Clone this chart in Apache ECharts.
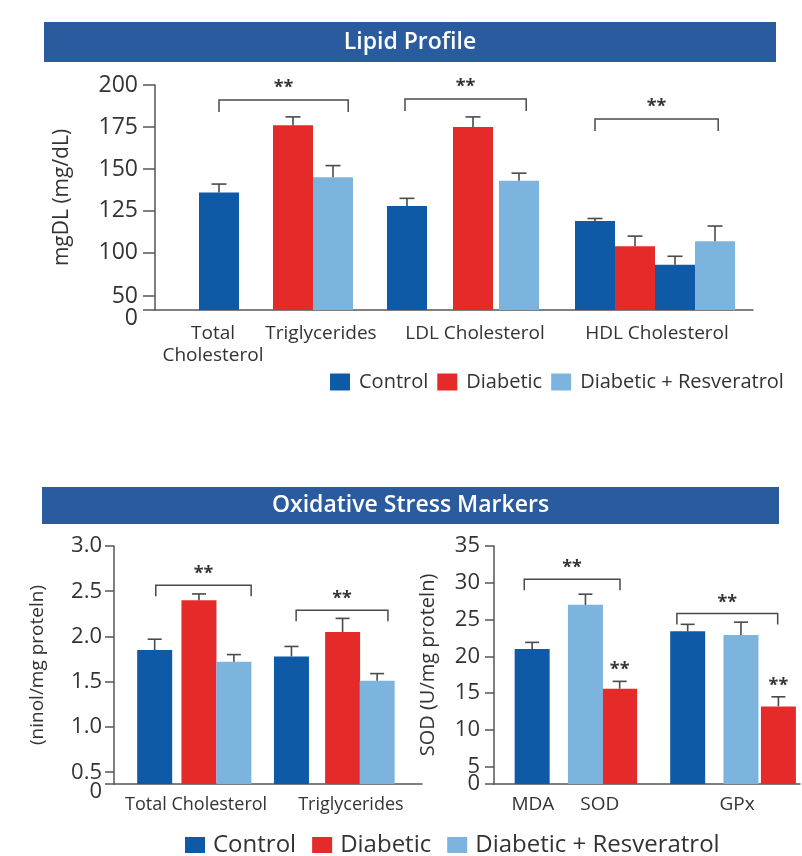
<!DOCTYPE html>
<html><head><meta charset="utf-8">
<script src="https://cdn.jsdelivr.net/npm/echarts@6/dist/echarts.min.js"></script>
<style>html,body{margin:0;padding:0;background:#fff}#c{width:802px;height:856px}</style>
</head><body><div id="c"></div>
<script>
// ================= DATA =================
const seriesNames = ['Control', 'Diabetic', 'Diabetic + Resveratrol'];

// --- Lipid Profile (mg/dL) ---
const lipidTitle = 'Lipid Profile';
const lipidYName = 'mgDL (mg/dL)';
const lipidCategories = ['Total\nCholesterol', 'Triglycerides', 'LDL Cholesterol', 'HDL Cholesterol'];
const lipidBarSeries = [0, 1, 2, 0, 1, 2, 0, 1, 0, 2];           // index into seriesNames
const lipidValues    = [136, 176, 145, 128, 175, 143, 119, 104, 93, 107];
const lipidErrors    = [5, 5, 7, 4.5, 6, 4.5, 1.5, 6, 5, 9];
const lipidTickLabels = ['0', '50', '100', '125', '150', '175', '200'];

// --- Oxidative Stress Markers (left panel) ---
const oxTitle = 'Oxidative Stress Markers';
const oxLeftYName = '(ninol/mg proteln)';
const oxLeftCategories = ['Total Cholesterol', 'Triglycerides'];
const oxLeftBarSeries = [0, 1, 2, 0, 1, 2];
const oxLeftValues    = [1.85, 2.40, 1.72, 1.78, 2.05, 1.51];
const oxLeftErrors    = [0.12, 0.07, 0.08, 0.11, 0.15, 0.08];
const oxLeftTickLabels = ['0', '0.5', '1.0', '1.5', '2.0', '2.5', '3.0'];

// --- Oxidative Stress Markers (right panel) ---
const oxRightYName = 'SOD (U/mg proteln)';
const oxRightCategories = ['MDA', 'SOD', 'GPx'];
const oxRightBarSeries = [0, 2, 1, 0, 2, 1];
const oxRightValues    = [21, 27, 15.6, 23.4, 22.9, 13.2];
const oxRightErrors    = [0.9, 1.45, 1.0, 0.95, 1.75, 1.3];
const oxRightTickLabels = ['0', '5', '10', '15', '20', '25', '30', '35'];
const oxRightStarBars = [2, 5];   // bars individually marked **

// ================= LAYOUT / STYLE =================
const FONT = '"Open Sans", "Noto Sans", sans-serif';
const COLORS = ['#0f5aa7', '#e52b2a', '#7db4de'];
const BANNER = '#2a5b9f';
const AXIS_COLOR = '#555';
const TEXT_COLOR = '#333';

const panels = [
  { // lipid
    grid: { left: 155, top: 85, width: 598, height: 225 },
    xMax: 14.95, barWidth: 40,
    barPos: [1.6, 3.45, 4.45, 6.3, 7.95, 9.1, 11.0, 12.0, 13.0, 14.0],
    labelPos: [1.45, 4.15, 8.0, 12.55], labelFont: 19, labelMargin: 13,
    yMin: 66, yMax: 200, tickPos: [66, 74.3, 100, 125, 150, 175, 200],
    zeroPad: 17, tickLen: 12, yLabelFont: 23, yLabelMargin: 17,
    yNameFont: 21, yNameGap: 82,
    brackets: [[1.6, 4.83, 191], [6.25, 9.28, 191.7], [11.0, 14.08, 179.7]],
    bracketLeg: 12, starGap: 12, capWidth: 15,
    categories: lipidCategories, barSeries: lipidBarSeries, values: lipidValues, errors: lipidErrors,
    tickLabels: lipidTickLabels, yName: lipidYName, starBars: []
  },
  { // oxidative left
    grid: { left: 114, top: 546, width: 308, height: 238 },
    xMax: 8.556, barWidth: 35,
    barPos: [1.13, 2.36, 3.33, 4.93, 6.35, 7.31],
    labelPos: [2.28, 6.58], labelFont: 18, labelMargin: 10,
    yMin: 0.37, yMax: 3.0, tickPos: [0.37, 0.5, 1.0, 1.5, 2.0, 2.5, 3.0],
    zeroPad: 16, tickLen: 9, yLabelFont: 22, yLabelMargin: 12,
    yNameFont: 19, yNameGap: 67,
    brackets: [[1.16, 3.81, 2.566], [5.06, 7.61, 2.29]],
    bracketLeg: 11, starGap: 11, capWidth: 14,
    categories: oxLeftCategories, barSeries: oxLeftBarSeries, values: oxLeftValues, errors: oxLeftErrors,
    tickLabels: oxLeftTickLabels, yName: oxLeftYName, starBars: []
  },
  { // oxidative right
    grid: { left: 494, top: 546, width: 306, height: 238 },
    xMax: 8.5, barWidth: 35,
    barPos: [1.06, 2.54, 3.49, 5.38, 6.86, 7.9],
    labelPos: [1.08, 2.94, 6.75], labelFont: 19, labelMargin: 10,
    yMin: 2.65, yMax: 35, tickPos: [2.65, 5, 10, 15, 20, 25, 30, 35],
    zeroPad: 0, tickLen: 9, yLabelFont: 22, yLabelMargin: 14,
    yNameFont: 20, yNameGap: 56,
    brackets: [[0.84, 3.5, 30.48], [5.08, 7.88, 25.82]],
    bracketLeg: 11, starGap: 11, capWidth: 14,
    categories: oxRightCategories, barSeries: oxRightBarSeries, values: oxRightValues, errors: oxRightErrors,
    tickLabels: oxRightTickLabels, yName: oxRightYName, starBars: oxRightStarBars
  }
];

function lookup(posArr, v) {
  for (let i = 0; i < posArr.length; i++) if (Math.abs(posArr[i] - v) < 1e-6) return i;
  return -1;
}

const grids = [], xAxes = [], yAxes = [], series = [];
const lineStyle = { stroke: '#4a4a4a', lineWidth: 1.6 };

panels.forEach((p, gi) => {
  grids.push(Object.assign({ outerBoundsMode: 'none', containLabel: false }, p.grid));
  xAxes.push({
    type: 'value', gridIndex: gi, min: 0, max: p.xMax,
    splitLine: { show: false }, axisTick: { show: false },
    axisLine: { show: true, onZero: false, lineStyle: { color: AXIS_COLOR, width: 1.5 } },
    axisLabel: {
      customValues: p.labelPos, margin: p.labelMargin, hideOverlap: false,
      showMinLabel: true, showMaxLabel: true,
      color: TEXT_COLOR, fontFamily: FONT, fontSize: p.labelFont, lineHeight: p.labelFont + 3,
      formatter: v => { const i = lookup(p.labelPos, v); return i >= 0 ? p.categories[i] : ''; }
    }
  });
  const yi = yAxes.length;
  // main value axis: ticks at every printed value, labels above the baseline
  yAxes.push({
    type: 'value', gridIndex: gi, min: p.yMin, max: p.yMax, position: 'left',
    splitLine: { show: false },
    axisLine: { show: true, onZero: false, lineStyle: { color: AXIS_COLOR, width: 1.5 } },
    axisTick: { show: true, inside: false, length: p.tickLen, customValues: p.tickPos, lineStyle: { color: AXIS_COLOR, width: 1.5 } },
    axisLabel: {
      customValues: p.tickPos.slice(1), margin: p.yLabelMargin, hideOverlap: false,
      showMinLabel: true, showMaxLabel: true,
      color: TEXT_COLOR, fontFamily: FONT, fontSize: p.yLabelFont,
      formatter: v => { const i = lookup(p.tickPos, v); return i >= 0 ? p.tickLabels[i] : ''; }
    },
    name: p.yName, nameLocation: 'middle', nameGap: p.yNameGap,
    nameTextStyle: { color: TEXT_COLOR, fontFamily: FONT, fontSize: p.yNameFont }
  });
  // companion axis carrying only the baseline "0" label
  yAxes.push({
    type: 'value', gridIndex: gi, min: p.yMin, max: p.yMax, position: 'left', offset: 0,
    splitLine: { show: false }, axisLine: { show: false }, axisTick: { show: false },
    axisLabel: {
      customValues: [p.tickPos[0]], margin: p.yLabelMargin, hideOverlap: false,
      showMinLabel: true,
      color: TEXT_COLOR, fontFamily: FONT, fontSize: p.yLabelFont,
      formatter: () => p.zeroPad ? '{z|' + p.tickLabels[0] + '}' : p.tickLabels[0],
      rich: { z: { padding: [p.zeroPad, 0, 0, 0], fontSize: p.yLabelFont, fontFamily: FONT, color: TEXT_COLOR } }
    }
  });

  // bars, one series per group
  seriesNames.forEach((name, si) => {
    const data = [];
    p.values.forEach((v, i) => { if (p.barSeries[i] === si) data.push([p.barPos[i], v]); });
    series.push({
      type: 'bar', name: name, xAxisIndex: gi, yAxisIndex: yi, data: data,
      barWidth: p.barWidth, barGap: '-100%', clip: true,
      itemStyle: { color: COLORS[si] }, emphasis: { disabled: true }, z: 2
    });
  });

  // error bars
  series.push({
    type: 'custom', xAxisIndex: gi, yAxisIndex: yi, z: 3, silent: true,
    data: p.values.map((v, i) => [p.barPos[i], v, p.errors[i]]),
    encode: { x: 0, y: 1 },
    renderItem: (params, api) => {
      const x = api.value(0), v = api.value(1), e = api.value(2);
      const a = api.coord([x, v]), b = api.coord([x, v + e]);
      const c = p.capWidth / 2;
      return { type: 'group', children: [
        { type: 'line', shape: { x1: a[0], y1: a[1], x2: b[0], y2: b[1] }, style: lineStyle },
        { type: 'line', shape: { x1: b[0] - c, y1: b[1], x2: b[0] + c, y2: b[1] }, style: lineStyle }
      ]};
    }
  });

  // significance brackets
  series.push({
    type: 'custom', xAxisIndex: gi, yAxisIndex: yi, z: 4, silent: true, clip: false,
    data: p.brackets,
    encode: { x: [0, 1], y: 2 },
    renderItem: (params, api) => {
      const a = api.coord([api.value(0), api.value(2)]);
      const b = api.coord([api.value(1), api.value(2)]);
      const leg = p.bracketLeg;
      return { type: 'group', children: [
        { type: 'polyline', shape: { points: [[a[0], a[1] + leg], [a[0], a[1]], [b[0], b[1]], [b[0], b[1] + leg]] },
          style: { stroke: '#4a4a4a', lineWidth: 1.5, fill: null } },
        { type: 'text', x: (a[0] + b[0]) / 2, y: a[1] - p.starGap,
          style: { text: '**', fill: '#333', font: 'bold 18px ' + FONT, align: 'center', verticalAlign: 'middle' } }
      ]};
    }
  });

  // individual stars above bars
  if (p.starBars.length) {
    series.push({
      type: 'custom', xAxisIndex: gi, yAxisIndex: yi, z: 4, silent: true, clip: false,
      data: p.starBars.map(i => [p.barPos[i], p.values[i] + p.errors[i]]),
      encode: { x: 0, y: 1 },
      renderItem: (params, api) => {
        const a = api.coord([api.value(0), api.value(1)]);
        return { type: 'text', x: a[0], y: a[1] - 11,
          style: { text: '**', fill: '#333', font: 'bold 18px ' + FONT, align: 'center', verticalAlign: 'middle' } };
      }
    });
  }
});

const legendBase = {
  data: seriesNames, icon: 'rect', orient: 'horizontal', selectedMode: false
};

const option = {
  animation: false,
  backgroundColor: '#fff',
  textStyle: { fontFamily: FONT },
  grid: grids, xAxis: xAxes, yAxis: yAxes, series: series,
  legend: [
    Object.assign({}, legendBase, { left: 325, top: 367, itemWidth: 20, itemHeight: 17, itemGap: 9,
      textStyle: { fontSize: 20, color: TEXT_COLOR, fontFamily: FONT, padding: [0, 0, 0, 4] } }),
    Object.assign({}, legendBase, { left: 180, top: 828, itemWidth: 20, itemHeight: 16, itemGap: 16,
      textStyle: { fontSize: 24, color: TEXT_COLOR, fontFamily: FONT, padding: [0, 0, 0, 3] } })
  ],
  graphic: [
    { type: 'rect', shape: { x: 44, y: 22, width: 732, height: 40 }, style: { fill: BANNER },
      textContent: { style: { text: lipidTitle, fill: '#fff', fontSize: 23, fontWeight: 600, fontFamily: FONT } },
      textConfig: { position: 'inside' } },
    { type: 'rect', shape: { x: 42, y: 487, width: 737, height: 37 }, style: { fill: BANNER },
      textContent: { style: { text: oxTitle, fill: '#fff', fontSize: 23, fontWeight: 600, fontFamily: FONT } },
      textConfig: { position: 'inside' } }
  ]
};

const chart = echarts.init(document.getElementById('c'), null, { renderer: 'canvas' });
chart.setOption(option);
</script>
</body></html>
